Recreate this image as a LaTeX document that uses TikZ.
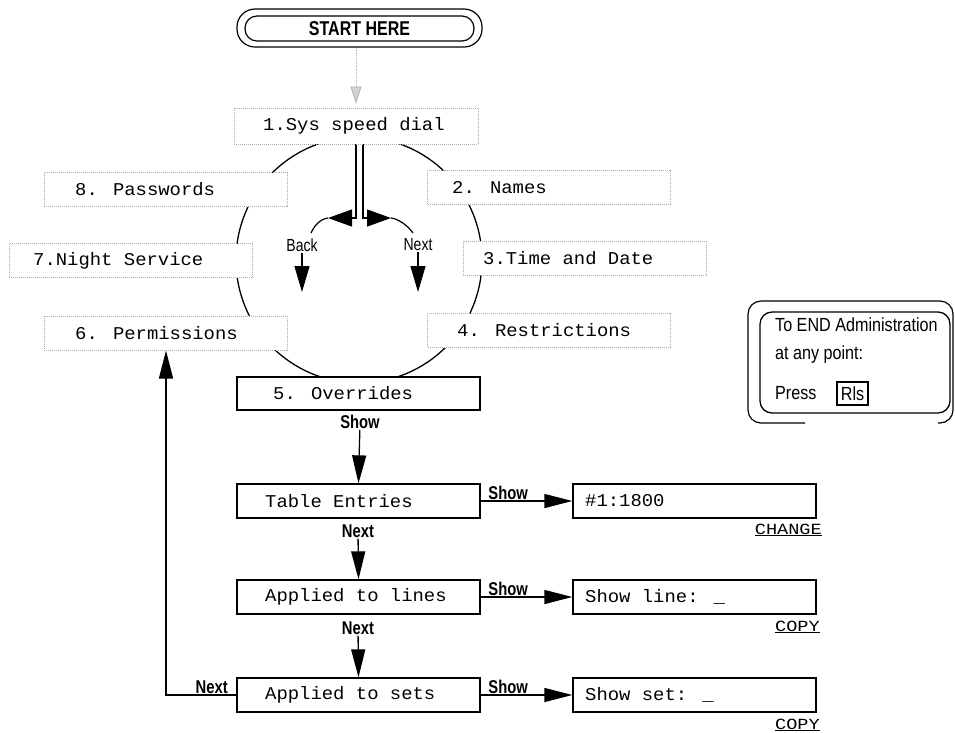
\documentclass[tikz,border=0pt]{standalone}
\usepackage{fontspec}
\usetikzlibrary{arrows.meta}
\newfontfamily\lcdfont[FakeStretch=1.05]{Liberation Mono}
\newfontfamily\lcdsmall[FakeStretch=1.2]{Liberation Mono}
\newfontfamily\narrowfont[FakeStretch=0.8]{Liberation Sans}
\newfontfamily\endfont[FakeStretch=0.85]{Liberation Sans}
\begin{document}
\begin{tikzpicture}[x=1pt,y=-1pt,
  menubox/.style={draw=gray!65, line width=1pt, densely dotted, fill=white, minimum width=243pt, minimum height=34pt, inner sep=0pt},
  solidbox/.style={draw=black, line width=1.3pt, fill=white, minimum width=243pt, minimum height=34pt, inner sep=0pt},
  lcdtext/.style={anchor=west, inner sep=0pt, font=\lcdfont\fontsize{18}{18}\selectfont},
  softkey/.style={anchor=east, inner sep=0pt, font=\lcdsmall\fontsize{15.5}{16}\selectfont},
  lbl/.style={inner sep=1pt, font=\narrowfont\bfseries\fontsize{18.5}{18.5}\selectfont},
  lblr/.style={inner sep=1pt, font=\narrowfont\fontsize{17.5}{17.5}\selectfont},
  endtext/.style={anchor=west, inner sep=0pt, font=\endfont\fontsize{19}{19}\selectfont},
  arr/.style={line width=1.3pt, -{Triangle[length=28pt,width=14pt]}},
  thinarr/.style={line width=1.2pt, -{Triangle[length=26pt,width=15pt]}},
]
\useasboundingbox (0,0) rectangle (955,732);

% ---- circle and back/next arrows
\coordinate (cc) at (359,260);
\draw[line width=1.3pt] (cc) circle[radius=123pt];

\coordinate (stemL) at (356,144);
\coordinate (stemR) at (363,144);
\coordinate (tipL) at (328,218);
\coordinate (tipR) at (391,218);
\coordinate (arcL) at (311,233);
\coordinate (arcR) at (413,233);
\draw[line width=1.2pt, -{Triangle[length=24pt,width=17pt]}] (stemL) -- (stemL |- tipL) -- (tipL);
\draw[line width=1.2pt, -{Triangle[length=24pt,width=17pt]}] (stemR) -- (stemR |- tipR) -- (tipR);
\draw[line width=1.2pt] (tipL) .. controls (320,219) and (314,226) .. (arcL);
\draw[line width=1.2pt] (tipR) .. controls (399,219) and (408,226) .. (arcR);

\node[lblr] (back) at (302,245) {Back};
\coordinate (backtip) at (302,292);
\draw[thinarr] (back) -- (backtip);
\node[lblr] (nextc) at (418,245) {Next};
\coordinate (nexttip) at (418,292);
\draw[thinarr] (nextc) -- (nexttip);

% ---- start
\node[draw, line width=1.2pt, rounded corners=18pt, minimum width=245pt, minimum height=38pt, inner sep=0pt] (startout) at (359.5,28) {};
\node[draw, line width=1.2pt, rounded corners=12pt, minimum width=229pt, minimum height=25pt, inner sep=0pt,
      font=\narrowfont\bfseries\fontsize{20}{20}\selectfont] (start) at (359.5,28.5) {START HERE};

% ---- menu boxes
\node[menubox, minimum height=36pt, minimum width=244pt] (sys) at (356,126) {};
\node[lcdtext] (tsys) at (263,126) {1.Sys speed dial};
\node[menubox] (n8) at (165.5,189.5) {};
\node[lcdtext] (t8) at (75,189.5) {8. Passwords};
\node[menubox] (n2) at (549,187.5) {};
\node[lcdtext] (t2) at (452,187.5) {2. Names};
\node[menubox] (n7) at (130.5,260.5) {};
\node[lcdtext] (t7) at (33,260.5) {7.Night Service};
\node[menubox] (n3) at (584.5,258) {};
\node[lcdtext] (t3) at (483,258) {3.Time and Date};
\node[menubox] (n6) at (165.5,333) {};
\node[lcdtext] (t6) at (75,333) {6. Permissions};
\node[menubox] (n4) at (549,330.5) {};
\node[lcdtext] (t4) at (457,330.5) {4. Restrictions};
\node[solidbox, minimum height=33pt] (n5) at (358.5,393.5) {};
\node[lcdtext] (t5) at (273,393.5) {5. Overrides};

\draw[gray!60, line width=0.9pt, densely dotted, shorten >=4pt, -{Triangle[length=17pt,width=11pt,fill=gray!35]}] (sys.north |- startout.south) -- (sys.north);

% ---- lower chain
\node[solidbox] (te) at (358.5,501) {};
\node[lcdtext] (tte) at (265,501) {Table Entries};
\node[solidbox] (al) at (358.5,597) {};
\node[lcdtext] (tal) at (265,597) {Applied to lines};
\node[solidbox] (as) at (358.5,695) {};
\node[lcdtext] (tas) at (265,695) {Applied to sets};

\node[solidbox] (c1) at (694.5,501) {};
\node[lcdtext] (tc1) at (585,501) {\#1:1800};
\node[solidbox] (c2) at (694.5,597) {};
\node[lcdtext] (tc2) at (585,597) {Show line: \_};
\node[solidbox] (c3) at (694.5,695) {};
\node[lcdtext] (tc3) at (585,695) {Show set: \_};

\node[softkey] (k1) at (822,530) {\underline{CHANGE}};
\node[softkey] (k2) at (820,627) {\underline{COPY}};
\node[softkey] (k3) at (820,725) {\underline{COPY}};

\node[lbl] (show0) at (360,422) {Show};
\draw[arr] (show0) -- (te.north);
\node[lbl] (next1) at (358,531) {Next};
\draw[arr] (next1) -- (al.north);
\node[lbl] (next2) at (358,628) {Next};
\draw[arr] (next2) -- (as.north);

\draw[arr] (te.east) -- node[lbl, above, pos=0.3] (s1) {Show} (c1.west);
\draw[arr] (al.east) -- node[lbl, above, pos=0.3] (s2) {Show} (c2.west);
\draw[arr] (as.east) -- node[lbl, above, pos=0.3] (s3) {Show} (c3.west);

\coordinate (lc) at (166,695);
\draw[arr] (as.west) -- node[lbl, above, pos=0.35] (nx) {Next} (lc) -- (lc |- n6.south);

% ---- END box
\draw[line width=1.2pt, rounded corners=13pt] (805,423) -- (748,423) -- (748,301) -- (953,301) -- (953,423) -- (938,423);
\node[draw, line width=1.3pt, rounded corners=12pt, minimum width=190pt, minimum height=101pt, inner sep=0pt] (endin) at (855,362.5) {};
\node[endtext] (e1) at (775,325) {To END Administration};
\node[endtext] (e2) at (775,355) {at any point:};
\node[endtext] (e3) at (775,393) {Press};
\node[draw, line width=1.2pt, minimum width=31pt, minimum height=23pt, inner sep=0pt,
      font=\endfont\fontsize{19}{19}\selectfont] (rls) at (852.5,393.5) {Rls};
\end{tikzpicture}
\end{document}
